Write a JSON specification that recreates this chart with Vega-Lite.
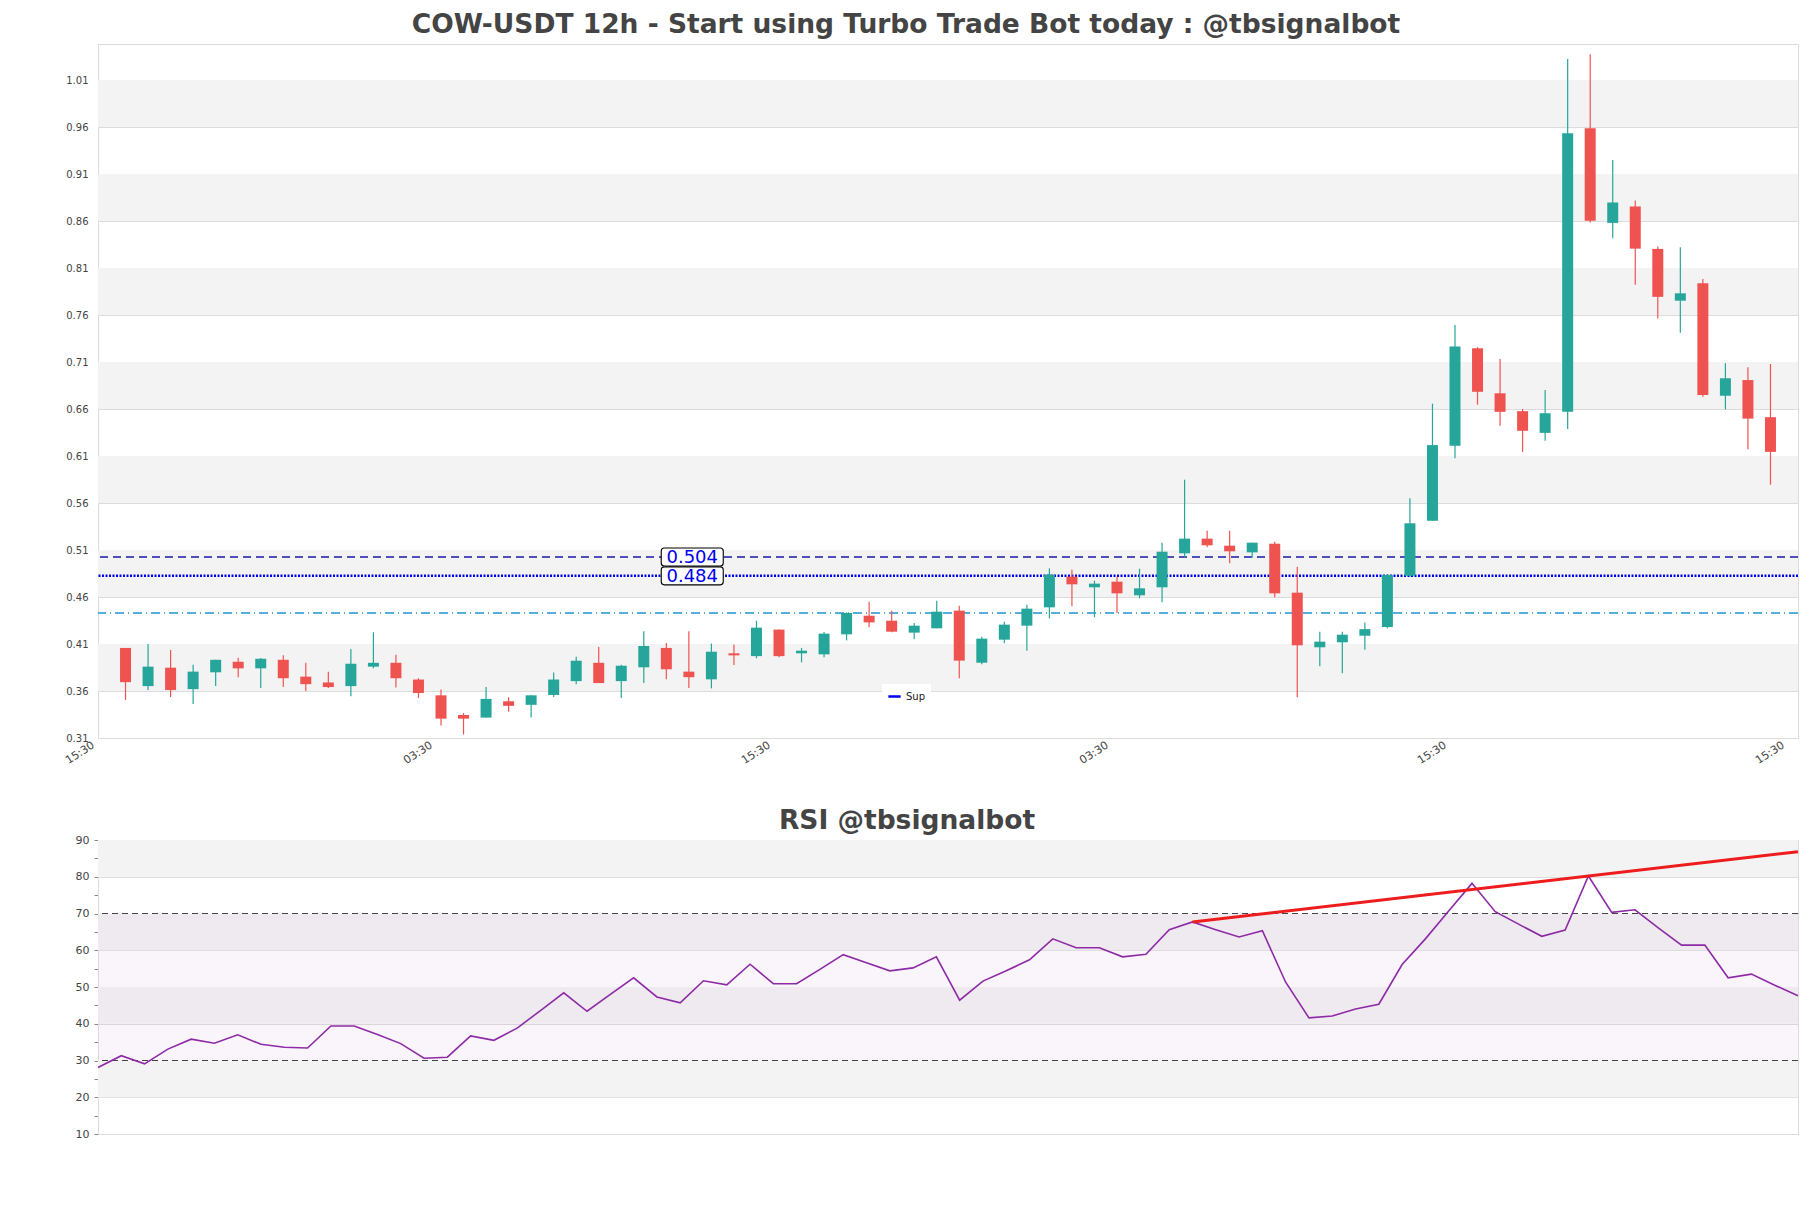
{
  "$schema": "https://vega.github.io/schema/vega-lite/v6.json",
  "background": "white",
  "padding": {"left": 7, "top": 12, "right": 14, "bottom": 5},
  "config": {
    "font": "DejaVu Sans",
    "view": {"stroke": "#dcdcdc", "strokeWidth": 1},
    "axis": {"labelFont": "DejaVu Sans", "labelColor": "#444", "domainColor": "#dcdcdc", "gridColor": "#dcdcdc", "tickColor": "#999"}
  },
  "title": {"text": "COW-USDT 12h - Start using Turbo Trade Bot today : @tbsignalbot", "fontSize": 26.5, "font": "DejaVu Sans", "fontWeight": "bold", "color": "#444", "anchor": "middle", "offset": 5},
  "spacing": 38,
  "datasets": {
    "candles": [
      {"i":0,"open":0.4073,"high":0.4073,"low":0.3520,"close":0.3709},
      {"i":1,"open":0.3667,"high":0.4115,"low":0.3625,"close":0.3874},
      {"i":2,"open":0.3863,"high":0.4052,"low":0.3552,"close":0.3625},
      {"i":3,"open":0.3635,"high":0.3895,"low":0.3478,"close":0.3821},
      {"i":4,"open":0.3814,"high":0.3947,"low":0.3667,"close":0.3947},
      {"i":5,"open":0.3926,"high":0.3968,"low":0.3762,"close":0.3856},
      {"i":6,"open":0.3856,"high":0.3965,"low":0.3646,"close":0.3958},
      {"i":7,"open":0.3947,"high":0.3996,"low":0.3657,"close":0.3751},
      {"i":8,"open":0.3768,"high":0.3915,"low":0.3615,"close":0.3688},
      {"i":9,"open":0.3706,"high":0.3821,"low":0.3646,"close":0.3657},
      {"i":10,"open":0.3667,"high":0.4063,"low":0.3559,"close":0.3905},
      {"i":11,"open":0.3874,"high":0.4241,"low":0.3856,"close":0.3915},
      {"i":12,"open":0.3915,"high":0.4000,"low":0.3653,"close":0.3751},
      {"i":13,"open":0.3737,"high":0.3751,"low":0.3541,"close":0.3594},
      {"i":14,"open":0.3569,"high":0.3632,"low":0.3248,"close":0.3321},
      {"i":15,"open":0.3360,"high":0.3381,"low":0.3153,"close":0.3321},
      {"i":16,"open":0.3332,"high":0.3657,"low":0.3332,"close":0.3531},
      {"i":17,"open":0.3506,"high":0.3548,"low":0.3395,"close":0.3457},
      {"i":18,"open":0.3468,"high":0.3569,"low":0.3332,"close":0.3569},
      {"i":19,"open":0.3573,"high":0.3811,"low":0.3552,"close":0.3737},
      {"i":20,"open":0.3720,"high":0.3979,"low":0.3688,"close":0.3937},
      {"i":21,"open":0.3915,"high":0.4084,"low":0.3699,"close":0.3699},
      {"i":22,"open":0.3720,"high":0.3895,"low":0.3541,"close":0.3884},
      {"i":23,"open":0.3867,"high":0.4251,"low":0.3699,"close":0.4094},
      {"i":24,"open":0.4073,"high":0.4125,"low":0.3741,"close":0.3846},
      {"i":25,"open":0.3821,"high":0.4251,"low":0.3646,"close":0.3762},
      {"i":26,"open":0.3739,"high":0.4119,"low":0.3643,"close":0.4033},
      {"i":27,"open":0.4016,"high":0.4111,"low":0.3892,"close":0.3994},
      {"i":28,"open":0.3986,"high":0.4363,"low":0.3963,"close":0.4289},
      {"i":29,"open":0.4268,"high":0.4268,"low":0.3973,"close":0.3986},
      {"i":30,"open":0.4016,"high":0.4073,"low":0.3920,"close":0.4044},
      {"i":31,"open":0.4005,"high":0.4243,"low":0.3973,"close":0.4225},
      {"i":32,"open":0.4218,"high":0.4452,"low":0.4154,"close":0.4445},
      {"i":33,"open":0.4416,"high":0.4565,"low":0.4292,"close":0.4345},
      {"i":34,"open":0.4363,"high":0.4470,"low":0.4239,"close":0.4246},
      {"i":35,"open":0.4236,"high":0.4338,"low":0.4165,"close":0.4310},
      {"i":36,"open":0.4282,"high":0.4576,"low":0.4282,"close":0.4459},
      {"i":37,"open":0.4470,"high":0.4523,"low":0.3750,"close":0.3938},
      {"i":38,"open":0.3916,"high":0.4193,"low":0.3899,"close":0.4172},
      {"i":39,"open":0.4161,"high":0.4353,"low":0.4122,"close":0.4321},
      {"i":40,"open":0.4310,"high":0.4533,"low":0.4044,"close":0.4491},
      {"i":41,"open":0.4505,"high":0.4920,"low":0.4388,"close":0.4853},
      {"i":42,"open":0.4831,"high":0.4906,"low":0.4516,"close":0.4750},
      {"i":43,"open":0.4718,"high":0.4789,"low":0.4399,"close":0.4757},
      {"i":44,"open":0.4778,"high":0.4831,"low":0.4445,"close":0.4654},
      {"i":45,"open":0.4633,"high":0.4916,"low":0.4601,"close":0.4707},
      {"i":46,"open":0.4718,"high":0.5193,"low":0.4558,"close":0.5097},
      {"i":47,"open":0.5080,"high":0.5863,"low":0.5037,"close":0.5236},
      {"i":48,"open":0.5236,"high":0.5321,"low":0.5143,"close":0.5165},
      {"i":49,"open":0.5161,"high":0.5321,"low":0.4973,"close":0.5101},
      {"i":50,"open":0.5090,"high":0.5193,"low":0.5033,"close":0.5193},
      {"i":51,"open":0.5182,"high":0.5204,"low":0.4612,"close":0.4654},
      {"i":52,"open":0.4661,"high":0.4938,"low":0.3548,"close":0.4101},
      {"i":53,"open":0.4080,"high":0.4245,"low":0.3879,"close":0.4140},
      {"i":54,"open":0.4133,"high":0.4245,"low":0.3805,"close":0.4214},
      {"i":55,"open":0.4203,"high":0.4344,"low":0.4055,"close":0.4273},
      {"i":56,"open":0.4295,"high":0.4860,"low":0.4282,"close":0.4848},
      {"i":57,"open":0.4841,"high":0.5665,"low":0.4830,"close":0.5399},
      {"i":58,"open":0.5426,"high":0.6672,"low":0.5426,"close":0.6231},
      {"i":59,"open":0.6224,"high":0.7508,"low":0.6091,"close":0.7280},
      {"i":60,"open":0.7261,"high":0.7273,"low":0.6661,"close":0.6798},
      {"i":61,"open":0.6782,"high":0.7147,"low":0.6437,"close":0.6585},
      {"i":62,"open":0.6592,"high":0.6615,"low":0.6159,"close":0.6383},
      {"i":63,"open":0.6361,"high":0.6817,"low":0.6277,"close":0.6570},
      {"i":64,"open":0.6585,"high":1.0339,"low":0.6401,"close":0.9549},
      {"i":65,"open":0.9602,"high":1.0389,"low":0.8599,"close":0.8618},
      {"i":66,"open":0.8595,"high":0.9264,"low":0.8432,"close":0.8812},
      {"i":67,"open":0.8770,"high":0.8834,"low":0.7938,"close":0.8321},
      {"i":68,"open":0.8318,"high":0.8344,"low":0.7577,"close":0.7808},
      {"i":69,"open":0.7767,"high":0.8337,"low":0.7425,"close":0.7846},
      {"i":70,"open":0.7953,"high":0.7998,"low":0.6744,"close":0.6763},
      {"i":71,"open":0.6756,"high":0.7102,"low":0.6611,"close":0.6942},
      {"i":72,"open":0.6923,"high":0.7060,"low":0.6186,"close":0.6513},
      {"i":73,"open":0.6528,"high":0.7094,"low":0.5810,"close":0.6159}
    ],
    "rsi": [
      {"k":0,"rsi":28.1},{"k":1,"rsi":31.3},{"k":2,"rsi":29.1},{"k":3,"rsi":33.1},{"k":4,"rsi":35.8},
      {"k":5,"rsi":34.7},{"k":6,"rsi":37.0},{"k":7,"rsi":34.4},{"k":8,"rsi":33.6},{"k":9,"rsi":33.4},
      {"k":10,"rsi":39.4},{"k":11,"rsi":39.4},{"k":12,"rsi":37.1},{"k":13,"rsi":34.6},{"k":14,"rsi":30.6},
      {"k":15,"rsi":30.9},{"k":16,"rsi":36.7},{"k":17,"rsi":35.5},{"k":18,"rsi":38.8},{"k":19,"rsi":43.6},
      {"k":20,"rsi":48.4},{"k":21,"rsi":43.4},{"k":22,"rsi":48.0},{"k":23,"rsi":52.5},{"k":24,"rsi":47.3},
      {"k":25,"rsi":45.7},{"k":26,"rsi":51.7},{"k":27,"rsi":50.6},{"k":28,"rsi":56.2},{"k":29,"rsi":50.9},
      {"k":30,"rsi":50.9},{"k":31,"rsi":54.8},{"k":32,"rsi":58.8},{"k":33,"rsi":56.6},{"k":34,"rsi":54.4},
      {"k":35,"rsi":55.2},{"k":36,"rsi":58.2},{"k":37,"rsi":46.4},{"k":38,"rsi":51.6},{"k":39,"rsi":54.4},
      {"k":40,"rsi":57.4},{"k":41,"rsi":63.1},{"k":42,"rsi":60.7},{"k":43,"rsi":60.7},{"k":44,"rsi":58.2},
      {"k":45,"rsi":58.9},{"k":46,"rsi":65.6},{"k":47,"rsi":67.7},{"k":48,"rsi":65.6},{"k":49,"rsi":63.6},
      {"k":50,"rsi":65.3},{"k":51,"rsi":51.3},{"k":52,"rsi":41.6},{"k":53,"rsi":42.1},{"k":54,"rsi":44.0},
      {"k":55,"rsi":45.3},{"k":56,"rsi":56.1},{"k":57,"rsi":63.1},{"k":58,"rsi":70.7},{"k":59,"rsi":78.2},
      {"k":60,"rsi":70.5},{"k":61,"rsi":67.1},{"k":62,"rsi":63.8},{"k":63,"rsi":65.5},{"k":64,"rsi":80.2},
      {"k":65,"rsi":70.3},{"k":66,"rsi":71.0},{"k":67,"rsi":66.1},{"k":68,"rsi":61.4},{"k":69,"rsi":61.4},
      {"k":70,"rsi":52.5},{"k":71,"rsi":53.5},{"k":72,"rsi":50.5},{"k":73,"rsi":47.6}
    ],
    "trend": [{"k":47,"v":67.7},{"k":73,"v":86.8}],
    "levels": [
      {"name":"Res","price":0.504},
      {"name":"Sup","price":0.484},
      {"name":"Low","price":0.4445}
    ],
    "bands": [
      {"y0":0.3615,"y1":0.4115},{"y0":0.4615,"y1":0.5115},{"y0":0.5615,"y1":0.6115},
      {"y0":0.6615,"y1":0.7115},{"y0":0.7615,"y1":0.8115},{"y0":0.8615,"y1":0.9115},{"y0":0.9615,"y1":1.0115}
    ],
    "rsiBands": [{"a":20,"b":30},{"a":40,"b":50},{"a":60,"b":70},{"a":80,"b":90}],
    "rsiZone": [{"a":30,"b":70}],
    "rsiLevels": [{"lvl":30},{"lvl":70}]
  },
  "vconcat": [
    {
      "width": 1700,
      "height": 694,
      "layer": [
        {
          "data": {"name": "bands"},
          "mark": {"type": "rect", "fill": "#f3f3f3"},
          "encoding": {
            "y": {"field": "y0", "type": "quantitative",
              "scale": {"domain": [0.3115, 1.0498], "nice": false, "zero": false},
              "axis": {"values": [0.3115,0.3615,0.4115,0.4615,0.5115,0.5615,0.6115,0.6615,0.7115,0.7615,0.8115,0.8615,0.9115,0.9615,1.0115],
                "tickCount": 30,
                "format": ".2f", "labelFontSize": 10, "ticks": false, "labelPadding": 10, "title": null, "labelOverlap": false,
                "grid": true, "gridColor": "#dcdcdc", "domainColor": "#dcdcdc", "minExtent": 90, "maxExtent": 90}},
            "y2": {"field": "y1"}
          }
        },
        {
          "data": {"name": "levels"},
          "transform": [{"filter": "datum.name == 'Res'"}],
          "mark": {"type": "rule", "stroke": "#1a1aa6", "strokeWidth": 1.4, "strokeDash": [8, 5]},
          "encoding": {"y": {"field": "price", "type": "quantitative"}}
        },
        {
          "data": {"name": "levels"},
          "transform": [{"filter": "datum.name == 'Low'"}],
          "mark": {"type": "rule", "stroke": "#1f94d4", "strokeWidth": 1.4, "strokeDash": [9, 4, 1, 4]},
          "encoding": {"y": {"field": "price", "type": "quantitative"}}
        },
        {
          "data": {"name": "levels"},
          "transform": [{"filter": "datum.name == 'Sup'"}],
          "mark": {"type": "rule", "strokeWidth": 2.5, "strokeDash": [2, 1.5]},
          "encoding": {
            "y": {"field": "price", "type": "quantitative"},
            "color": {"field": "name", "type": "nominal", "scale": {"range": ["#0000ee"]},
              "legend": {"orient": "none", "legendX": 784, "legendY": 640, "title": null, "symbolType": "stroke",
                "symbolStrokeWidth": 2.5, "symbolSize": 150, "symbolDash": [1, 0], "labelFontSize": 10, "labelColor": "#222",
                "fillColor": "white", "padding": 5, "labelFont": "DejaVu Sans"}}
          }
        },
        {
          "data": {"name": "candles"},
          "mark": {"type": "rule", "strokeWidth": 1.2},
          "encoding": {
            "x": {"field": "i", "type": "quantitative",
              "scale": {"domain": [-1, 74], "nice": false, "zero": false},
              "axis": {"values": [-1, 14, 29, 44, 59, 74], "tickCount": 20,
                "labelExpr": "datum.value == 14 || datum.value == 44 ? '03:30' : '15:30'",
                "labelAngle": -33, "labelAlign": "right", "labelBaseline": "middle", "labelFontSize": 11,
                "labelOffset": -10,
                "grid": false, "ticks": false, "labelPadding": 6, "title": null, "domainColor": "#dcdcdc", "labelOverlap": false,
                "minExtent": 30, "maxExtent": 30}},
            "y": {"field": "low", "type": "quantitative"},
            "y2": {"field": "high"},
            "color": {"condition": {"test": "datum.close >= datum.open", "value": "#26a69a"}, "value": "#ef5350"}
          }
        },
        {
          "data": {"name": "candles"},
          "mark": {"type": "bar", "size": 11},
          "encoding": {
            "x": {"field": "i", "type": "quantitative"},
            "y": {"field": "open", "type": "quantitative"},
            "y2": {"field": "close"},
            "color": {"condition": {"test": "datum.close >= datum.open", "value": "#26a69a"}, "value": "#ef5350"}
          }
        },
        {
          "data": {"name": "levels"},
          "transform": [{"filter": "datum.name != 'Low'"}],
          "mark": {"type": "point", "filled": true, "fill": "white", "stroke": "black", "strokeWidth": 1.1, "opacity": 1, "size": 400,
            "shape": "M-2.8,-0.9 H2.8 A0.3,0.3 0 0 1 3.1,-0.6 V0.6 A0.3,0.3 0 0 1 2.8,0.9 H-2.8 A0.3,0.3 0 0 1 -3.1,0.6 V-0.6 A0.3,0.3 0 0 1 -2.8,-0.9 Z"},
          "encoding": {
            "x": {"datum": 25.15, "type": "quantitative"},
            "y": {"field": "price", "type": "quantitative"}
          }
        },
        {
          "data": {"name": "levels"},
          "transform": [{"filter": "datum.name != 'Low'"}],
          "mark": {"type": "text", "color": "#0000ee", "fontSize": 18, "font": "DejaVu Sans", "align": "center", "baseline": "middle", "dy": 1},
          "encoding": {
            "x": {"datum": 25.15, "type": "quantitative"},
            "y": {"field": "price", "type": "quantitative"},
            "text": {"field": "price", "type": "quantitative", "format": ".3f"}
          }
        }
      ]
    },
    {
      "width": 1700,
      "height": 294,
      "title": {"text": "RSI @tbsignalbot", "fontSize": 26.5, "font": "DejaVu Sans", "fontWeight": "bold", "color": "#444", "anchor": "middle", "offset": 0, "dx": -41},
      "layer": [
        {
          "data": {"name": "rsiBands"},
          "mark": {"type": "rect", "fill": "#f3f3f3"},
          "encoding": {
            "y": {"field": "a", "type": "quantitative",
              "scale": {"domain": [10, 90], "nice": false, "zero": false},
              "axis": {"values": [10,15,20,25,30,35,40,45,50,55,60,65,70,75,80,85,90], "tickCount": 40,
                "labelExpr": "datum.value % 10 == 0 ? datum.label : ''", "labelOverlap": false,
                "gridOpacity": {"condition": {"test": "datum.value % 10 == 0", "value": 1}, "value": 0},
                "labelFontSize": 11, "tickSize": 4, "tickColor": "#888", "labelPadding": 5, "title": null,
                "grid": true, "gridColor": "#dcdcdc", "domainColor": "#dcdcdc", "minExtent": 90, "maxExtent": 90}},
            "y2": {"field": "b"}
          }
        },
        {
          "data": {"name": "rsiZone"},
          "mark": {"type": "rect", "fill": "#c49ad4", "opacity": 0.1},
          "encoding": {
            "y": {"field": "a", "type": "quantitative"},
            "y2": {"field": "b"}
          }
        },
        {
          "data": {"name": "rsiLevels"},
          "mark": {"type": "rule", "stroke": "#444", "strokeWidth": 1.2, "strokeDash": [6, 4]},
          "encoding": {"y": {"field": "lvl", "type": "quantitative"}}
        },
        {
          "data": {"name": "rsi"},
          "mark": {"type": "line", "stroke": "#8e2aa5", "strokeWidth": 1.6},
          "encoding": {
            "x": {"field": "k", "type": "quantitative", "scale": {"domain": [0, 73], "nice": false, "zero": false}, "axis": null},
            "y": {"field": "rsi", "type": "quantitative"}
          }
        },
        {
          "data": {"name": "trend"},
          "mark": {"type": "line", "stroke": "#ee1c1c", "strokeWidth": 3},
          "encoding": {
            "x": {"field": "k", "type": "quantitative"},
            "y": {"field": "v", "type": "quantitative"}
          }
        }
      ]
    }
  ]
}
